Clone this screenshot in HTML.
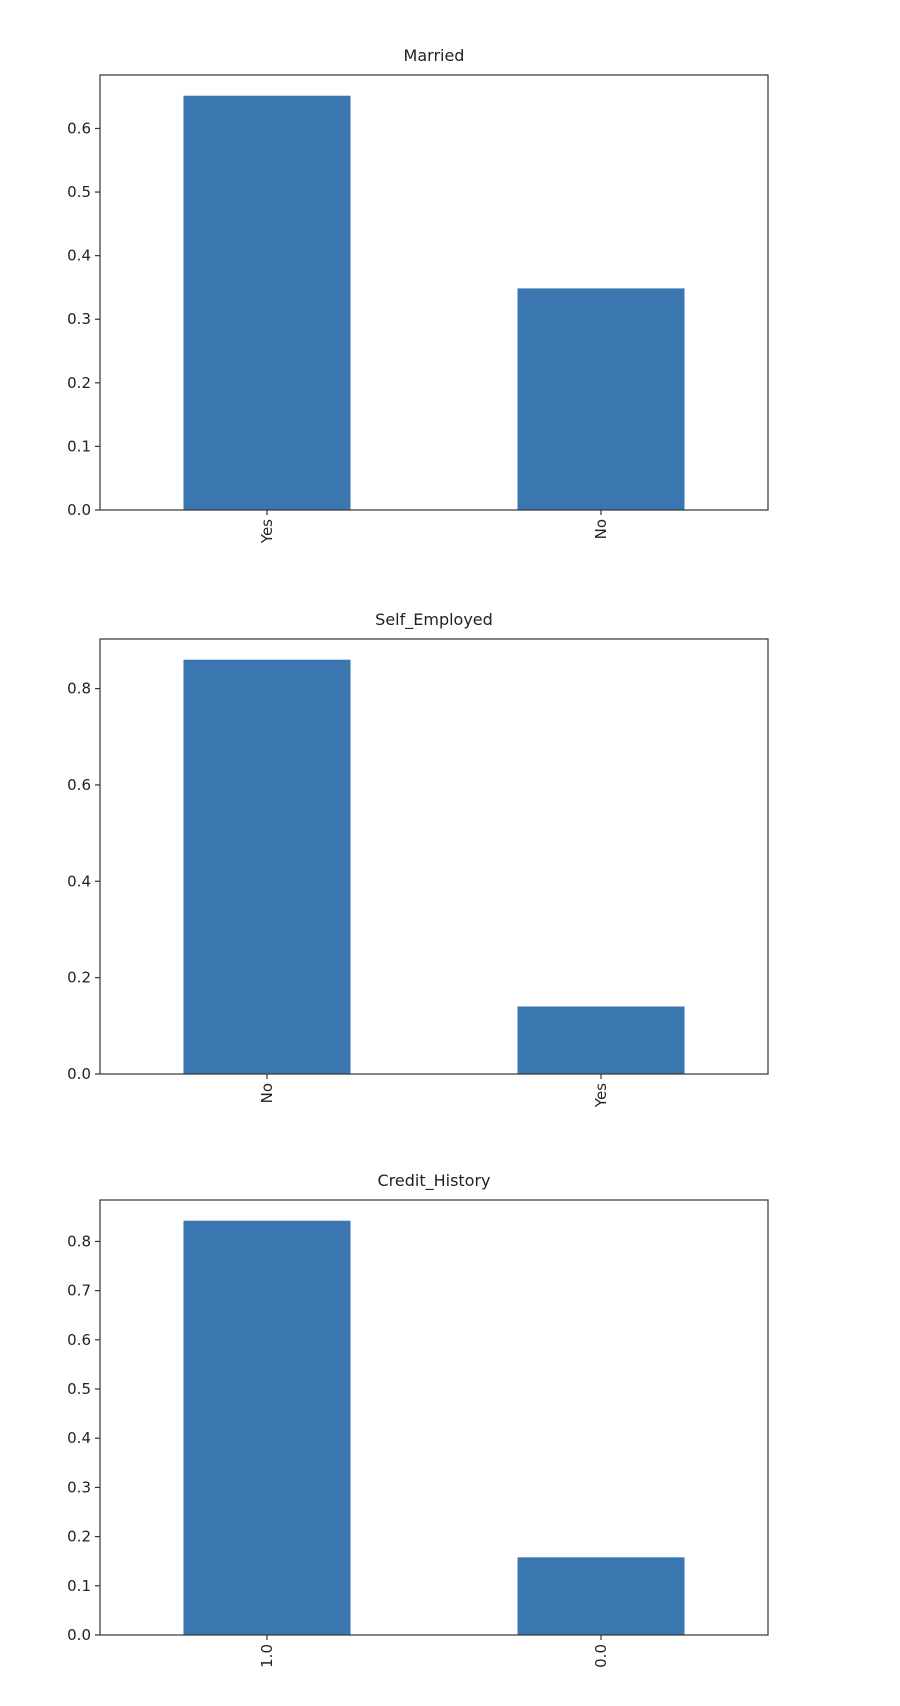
<!DOCTYPE html>
<html><head><meta charset="utf-8"><style>
html,body{margin:0;padding:0;background:#fff;}
svg{display:block;font-family:"DejaVu Sans","Liberation Sans",sans-serif;}
</style></head><body>
<svg id="fig" width="900" height="1706" viewBox="0 0 900 1706" xmlns="http://www.w3.org/2000/svg"></svg>
<script>
const titles = ["Married", "Self_Employed", "Credit_History"];
const cats1 = ["Yes", "No"];
const vals1 = [0.6515, 0.3485];
const ticks1 = ["0.0","0.1","0.2","0.3","0.4","0.5","0.6"];
const cats2 = ["No", "Yes"];
const vals2 = [0.8599, 0.1401];
const ticks2 = ["0.0","0.2","0.4","0.6","0.8"];
const cats3 = ["1.0", "0.0"];
const vals3 = [0.8421, 0.1579];
const ticks3 = ["0.0","0.1","0.2","0.3","0.4","0.5","0.6","0.7","0.8"];

const NS = "http://www.w3.org/2000/svg";
const svg = document.getElementById("fig");
function mk(tag, attrs, parent){
  const e = document.createElementNS(NS, tag);
  for (const k in attrs) e.setAttribute(k, attrs[k]);
  (parent||svg).appendChild(e);
  return e;
}
const L = 100, R = 768, H = 435;
const tops = [75, 639, 1200];
const data = [[cats1, vals1, ticks1], [cats2, vals2, ticks2], [cats3, vals3, ticks3]];

data.forEach((d, i) => {
  const [cats, vals, ticks] = d;
  const top = tops[i], bot = top + H;
  const g = mk("g", {});
  
  
  const ymax = Math.max(...vals) * 1.05;
  const y = v => bot - v / ymax * H;
  const n = cats.length;
  const x = c => L + (c + 0.5) / n * (R - L);
  const bw = 0.5 / n * (R - L);
  const t = mk("text", {x: (L+R)/2, y: top - 14, "text-anchor": "middle", "font-size": 16, fill: "#222"}, g);
  t.textContent = titles[i];
  
  
  vals.forEach((v, j) => {
    const r = mk("rect", {x: x(j) - bw/2, y: y(v), width: bw, height: bot - y(v), fill: "#3a76af"}, g);
    
    
  });
  const fr = mk("rect", {x: L, y: top, width: R-L, height: H, fill: "none", stroke: "#333", "stroke-width": 1.2}, g);
  
  
  ticks.forEach(tl => {
    const yy = y(parseFloat(tl));
    mk("line", {x1: L-5, x2: L, y1: yy, y2: yy, stroke: "#333", "stroke-width": 1.2}, g);
    const tt = mk("text", {x: L-9, y: yy + 5, "text-anchor": "end", "font-size": 15, fill: "#222"}, g);
    tt.textContent = tl;
    
    
  });
  cats.forEach((c, j) => {
    const xx = x(j);
    mk("line", {x1: xx, x2: xx, y1: bot, y2: bot+5, stroke: "#333", "stroke-width": 1.2}, g);
    const tt = mk("text", {x: 0, y: 0, "text-anchor": "end", "font-size": 15, fill: "#222",
      transform: `translate(${xx+5},${bot+9}) rotate(-90)`}, g);
    tt.textContent = c;
    
    
  });
});
</script>
</body></html>
